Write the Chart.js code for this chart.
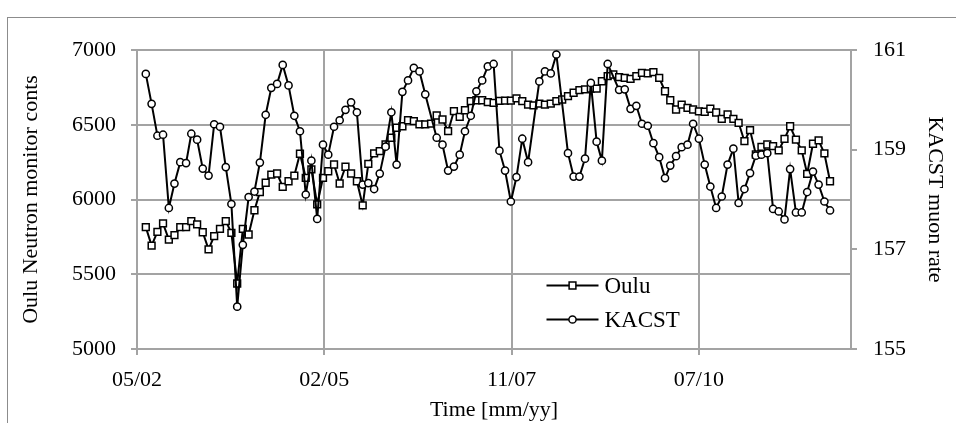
<!DOCTYPE html>
<html>
<head>
<meta charset="utf-8">
<script src="https://cdn.jsdelivr.net/npm/chart.js@4.4.1/dist/chart.umd.min.js"></script>
<style>
html,body{margin:0;padding:0;background:#fff;}
#wrap{position:relative;width:956px;height:423px;overflow:hidden;}
#frame{position:absolute;left:7px;top:17px;width:1000px;height:500px;border-left:1px solid #8c8c8c;border-top:1px solid #8c8c8c;box-sizing:border-box;}
#c{position:absolute;left:0;top:0;}
</style>
</head>
<body>
<div id="wrap"><div id="frame"></div><canvas id="c" width="956" height="423"></canvas></div>
<script>
// Monthly categories (last day of each month), June 2002 .. June 2012
const firstYear = 2002, firstMonth = 5; // 0-based month index: June
const monthCount = 121;
const categories = [];
for (let i = 0; i < monthCount; i++) {
  const d = new Date(Date.UTC(firstYear, firstMonth + i + 1, 0));
  categories.push(d.toISOString().slice(0, 10));
}

// Tick labels (every 1000 days from axis start)
const tickLabels = ['05/02', '02/05', '11/07', '07/10'];
const axisStartDate = '2002-05-14';
const axisSpanDays = 3812;

// Oulu neutron monitor counts
const oulu = [
  5815,5692,5784,5840,5732,5761,5815,5815,5855,5833,
  5781,5666,5755,5804,5855,5777,5438,5804,5766,5928,
  6049,6112,6167,6174,6085,6122,6160,6306,6145,6201,
  5967,6145,6189,6234,6107,6219,6174,6122,5960,6239,
  6308,6323,6368,6413,6480,6490,6530,6524,6502,6502,
  6508,6562,6535,6457,6591,6553,6597,6658,6664,6664,
  6651,6647,6659,6661,6662,6676,6658,6635,6629,6642,
  6635,6642,6658,6669,6691,6714,6731,6736,6741,6741,
  6791,6825,6836,6818,6814,6807,6825,6847,6843,6852,
  6814,6724,6664,6602,6635,6613,6602,6589,6587,6607,
  6582,6540,6569,6540,6513,6390,6464,6301,6352,6368,
  6357,6328,6406,6490,6401,6328,6172,6373,6395,6308,
  6122
];

// KACST muon rate (null = missing month)
const kacst = [
  160.52,159.92,159.28,159.30,157.83,158.32,158.75,158.73,159.32,159.20,
  158.62,158.48,159.51,159.46,158.65,157.91,155.85,157.09,158.05,158.16,
  158.74,159.70,160.24,160.32,160.70,160.29,159.68,159.37,158.10,158.78,
  157.61,159.10,158.90,159.46,159.59,159.80,159.95,159.75,158.30,158.33,
  158.21,158.52,159.06,159.75,158.70,160.16,160.39,160.64,160.57,160.11,
  null,159.24,159.10,158.58,158.66,158.90,159.37,159.68,160.17,160.39,
  160.67,160.72,158.98,158.58,157.96,158.45,159.22,158.75,null,160.37,
  160.57,160.53,160.91,null,158.93,158.46,158.46,158.82,160.34,159.16,
  158.78,160.72,null,160.20,160.21,159.82,159.88,159.52,159.48,159.13,
  158.85,158.43,158.68,158.87,159.05,159.10,159.52,159.22,158.70,158.26,
  157.83,158.06,158.70,159.02,157.93,158.21,158.53,158.88,158.90,158.93,
  157.81,157.76,157.60,158.61,157.74,157.74,158.15,158.56,158.30,157.96,
  157.78
];

const DAY = 86400000;
const t0 = Date.parse(axisStartDate + 'T00:00:00Z');
const xDays = categories.map(c => (Date.parse(c + 'T00:00:00Z') - t0) / DAY);

const F = "'Liberation Serif', 'Times New Roman', serif";
const GRID = '#a3a3a3';

const legendPlugin = {
  id: 'inlineLegend',
  afterDraw(chart) {
    const {ctx, chartArea} = chart;
    const x0 = chartArea.left + 409.5, len = 52;
    const rows = [chartArea.top + 235.5, chartArea.top + 269.5];
    chart.data.datasets.forEach((ds, i) => {
      const y = rows[i];
      const cx = x0 + len / 2;
      ctx.save();
      ctx.strokeStyle = ds.borderColor;
      ctx.lineWidth = ds.borderWidth;
      ctx.beginPath(); ctx.moveTo(x0, y); ctx.lineTo(x0 + len, y); ctx.stroke();
      ctx.fillStyle = ds.pointBackgroundColor;
      ctx.strokeStyle = ds.pointBorderColor;
      ctx.lineWidth = ds.pointBorderWidth;
      ctx.beginPath();
      if (ds.pointStyle === 'rect') {
        const s = Math.SQRT1_2 * ds.pointRadius;
        ctx.rect(cx - s, y - s, 2 * s, 2 * s);
      } else {
        ctx.arc(cx, y, ds.pointRadius, 0, Math.PI * 2);
      }
      ctx.fill(); ctx.stroke();
      ctx.fillStyle = '#000';
      ctx.font = '23px ' + F;
      ctx.textAlign = 'left';
      ctx.textBaseline = 'middle';
      ctx.fillText(ds.label, x0 + len + 6, y + 1);
      ctx.restore();
    });
  }
};

const tickFont = {family: F, size: 22};

new Chart(document.getElementById('c'), {
  type: 'line',
  data: {
    datasets: [
      {
        label: 'Oulu',
        data: oulu.map((v, i) => ({x: xDays[i], y: v})),
        yAxisID: 'y',
        borderColor: '#000', borderWidth: 2,
        pointStyle: 'rect', pointRadius: 4.8, pointBorderWidth: 1.5,
        pointBackgroundColor: '#fff', pointBorderColor: '#000',
        tension: 0, order: 2
      },
      {
        label: 'KACST',
        data: kacst.map((v, i) => ({x: xDays[i], y: v})),
        yAxisID: 'y1',
        borderColor: '#000', borderWidth: 2,
        pointStyle: 'circle', pointRadius: 3.6, pointBorderWidth: 1.5,
        pointBackgroundColor: '#fff', pointBorderColor: '#000',
        tension: 0, spanGaps: true, order: 1
      }
    ]
  },
  options: {
    responsive: false,
    animation: false,
    devicePixelRatio: 1,
    layout: {padding: {top: 50, left: 0, right: 0, bottom: 0}},
    plugins: {legend: {display: false}, tooltip: {enabled: false}},
    scales: {
      x: {
        type: 'linear', position: 'bottom', min: 0, max: axisSpanDays, bounds: 'data',
        afterFit(s) { s.height = 74; },
        afterBuildTicks(s) { s.ticks = tickLabels.map((_, k) => ({value: k * 1000})); },
        ticks: {
          autoSkip: false, maxRotation: 0,
          padding: 12, color: '#000', font: tickFont,
          callback: v => { const k = Math.round(v / 1000); return tickLabels[k] !== undefined ? tickLabels[k] : ''; }
        },
        grid: {color: GRID, lineWidth: 2, tickLength: 6, tickColor: GRID, drawTicks: true},
        border: {color: GRID, width: 2},
        title: {display: true, text: 'Time [mm/yy]', color: '#000', font: tickFont, padding: {top: 0, bottom: 0}}
      },
      y: {
        position: 'left', min: 5000, max: 7000,
        afterFit(s) { s.width = 137; },
        ticks: {stepSize: 500, padding: 15, color: '#000', font: tickFont, callback: v => String(v)},
        grid: {color: GRID, lineWidth: 2, tickLength: 6, tickColor: GRID},
        border: {color: GRID, width: 2},
        title: {display: true, text: 'Oulu Neutron monitor conts', color: '#000', font: tickFont, padding: {top: 18, bottom: 0}}
      },
      y1: {
        position: 'right', min: 155, max: 161,
        afterFit(s) { s.width = 105; },
        ticks: {stepSize: 2, padding: 16, color: '#000', font: tickFont, callback: v => String(v)},
        grid: {drawOnChartArea: false, color: GRID, lineWidth: 2, tickLength: 6, tickColor: GRID},
        border: {color: GRID, width: 2},
        title: {display: true, text: 'KACST muon rate', color: '#000', font: tickFont, padding: {top: 8, bottom: 0}}
      }
    }
  },
  plugins: [legendPlugin]
});
</script>
</body>
</html>
